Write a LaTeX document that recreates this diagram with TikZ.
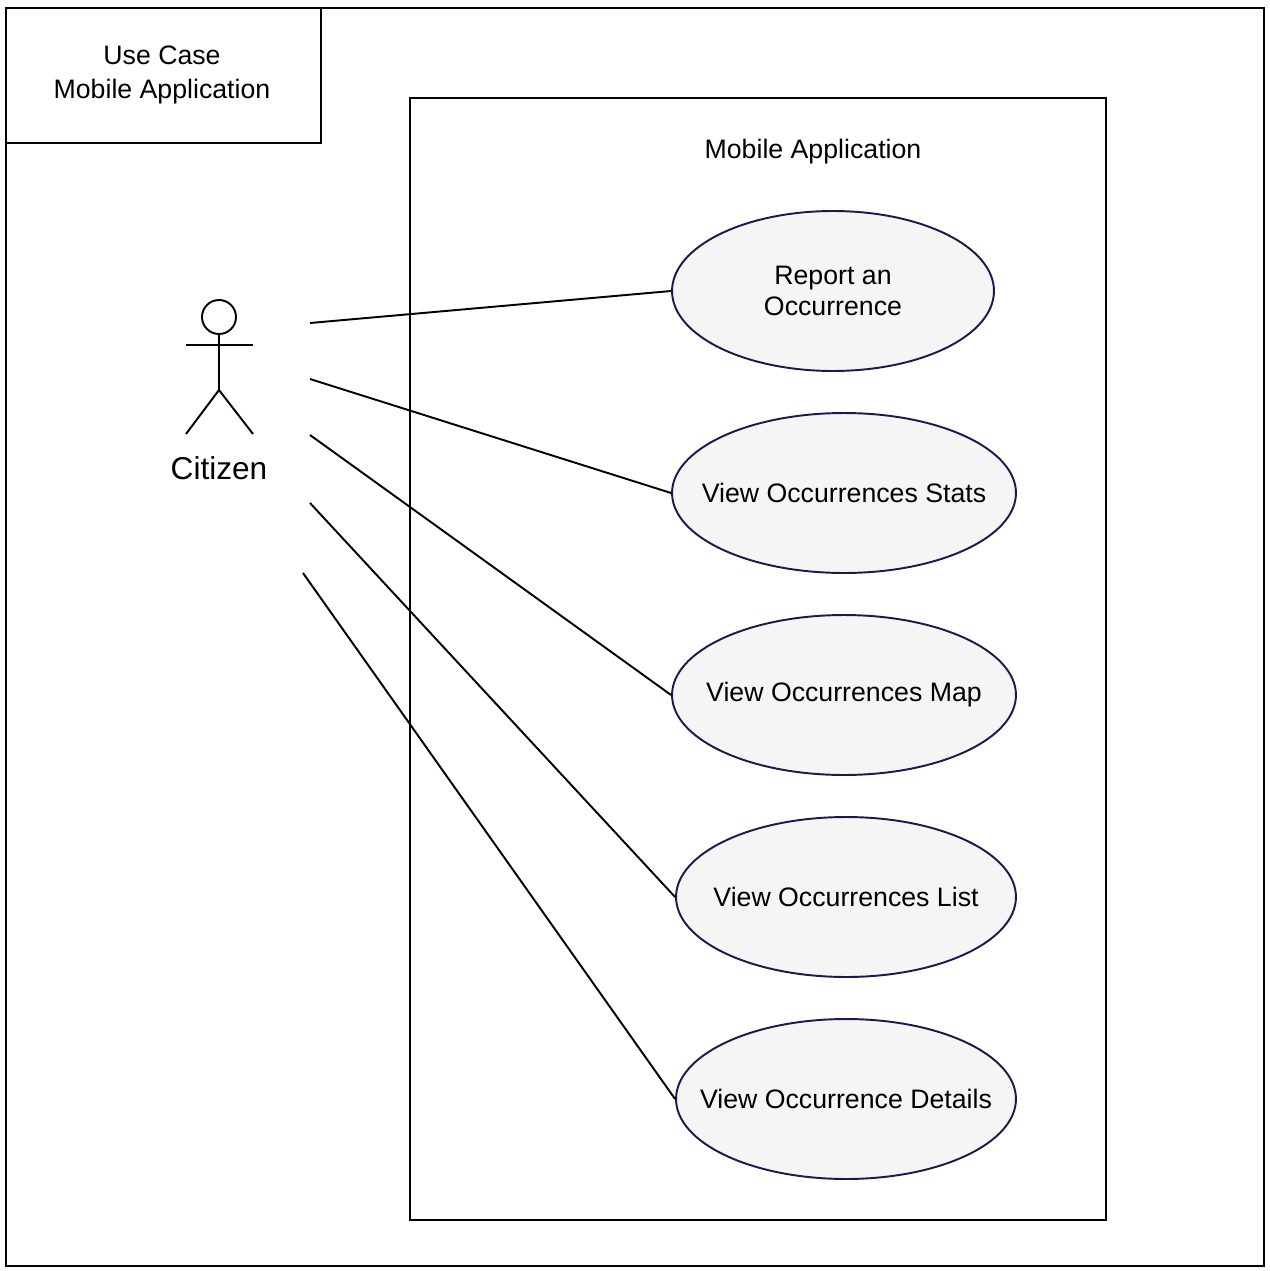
\documentclass[tikz,border=0pt]{standalone}
\usepackage{fontspec}
\setmainfont{Liberation Sans}
\usetikzlibrary{positioning, shapes.geometric}
\definecolor{ucfill}{HTML}{F5F5F5}
\definecolor{ucline}{HTML}{1A1A4D}
\tikzset{
	usecase/.style={draw=ucline, fill=ucfill, ellipse, line width=1.1pt, minimum height=3.2cm, inner sep=0pt},
	uctext/.style={align=center, font=\fontsize{15.2}{17.5}\selectfont},
	frame/.style={draw, line width=1.1pt},
	link/.style={line width=1.1pt}
}
\begin{document}
\begin{tikzpicture}[x=0.02cm, y=-0.02cm]
	\useasboundingbox (0,0) rectangle (1269,1271);
	
	%Frames
	\draw[frame] (6,8) rectangle (1264,1266);
	\draw[frame] (6,8) rectangle (321,143);
	\node (title) at (162,75) [align=center, font=\fontsize{15.2}{19.5}\selectfont]{Use Case\\ Mobile Application};
	\draw[frame] (410,98) rectangle (1106,1220);
	\node (system) at (813,152) [font=\fontsize{15.2}{17}\selectfont]{Mobile Application};
	
	%Actor
	\draw[link] (219,317) circle (17);
	\draw[link] (219,334) -- (219,390);
	\draw[link] (186,345) -- (253,345);
	\draw[link] (186,434) -- (219,390) -- (253,434);
	\node (citizen) at (219,468) [font=\fontsize{18}{20}\selectfont]{Citizen};
	
	%Use cases
	\node (report) at (833,291) [usecase, minimum width=6.44cm, label={[uctext]center:Report an\\ Occurrence}]{};
	\node (stats) at (844,493) [usecase, minimum width=6.88cm, label={[uctext]center:View Occurrences Stats}]{};
	\node (map) at (844,695) [usecase, minimum width=6.88cm, label={[uctext]center:View Occurrences Map}]{};
	\node (list) at (846,897) [usecase, minimum width=6.8cm, label={[uctext]center:View Occurrences List}]{};
	\node (details) at (846,1099) [usecase, minimum width=6.8cm, label={[uctext]center:View Occurrence Details}]{};
	
	%Links
	\coordinate (a1) at (310,323);
	\coordinate (a2) at (310,379);
	\coordinate (a3) at (310,435);
	\coordinate (a4) at (310,503);
	\coordinate (a5) at (303,573);
	\draw[link] (a1) -- (report.west);
	\draw[link] (a2) -- (stats.west);
	\draw[link] (a3) -- (map.west);
	\draw[link] (a4) -- (list.west);
	\draw[link] (a5) -- (details.west);
	
\end{tikzpicture}
\end{document}
